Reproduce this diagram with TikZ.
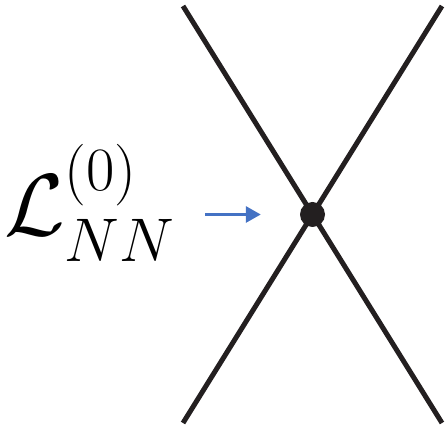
\documentclass[tikz,border=0pt]{standalone}
\usepackage{fix-cm}
\usepackage{amsmath, amssymb}
\usepackage{tikz}
\usetikzlibrary{positioning, arrows.meta}
\definecolor{pointblue}{RGB}{68,114,196}
\definecolor{inkdark}{RGB}{35,31,32}
\begin{document}
\begin{tikzpicture}[x=1pt,y=-1pt]
	 \tikzstyle{vertex}=[circle,fill=inkdark,inner sep=0pt,minimum size=25pt]
	 \tikzstyle{edge} = [draw,line width=5pt,-,inkdark]
	 \tikzstyle{pointer} = [draw,line width=3pt,-{Triangle[length=15pt,width=16pt]},pointblue]
	 \useasboundingbox (0,0) rectangle (445,427);
	 \coordinate (tl) at (183,6);
	 \coordinate (tr) at (442,6);
	 \coordinate (bl) at (183,423);
	 \coordinate (br) at (442,423);
	 \node[vertex] (v) at (312.5,214.5) {};
	 \node[anchor=base west,inner sep=0pt,font=\fontsize{88}{96}\selectfont] (lag) at (4,236) {$\mathcal{L}^{(0)}_{NN}$};
	 \draw[edge] (tl) -- (br);
	 \draw[edge] (tr) -- (bl);
	 \draw[pointer,shorten <=30pt,shorten >=39pt] (lag.east |- v) -- (v.west);
 \end{tikzpicture}
\end{document}
